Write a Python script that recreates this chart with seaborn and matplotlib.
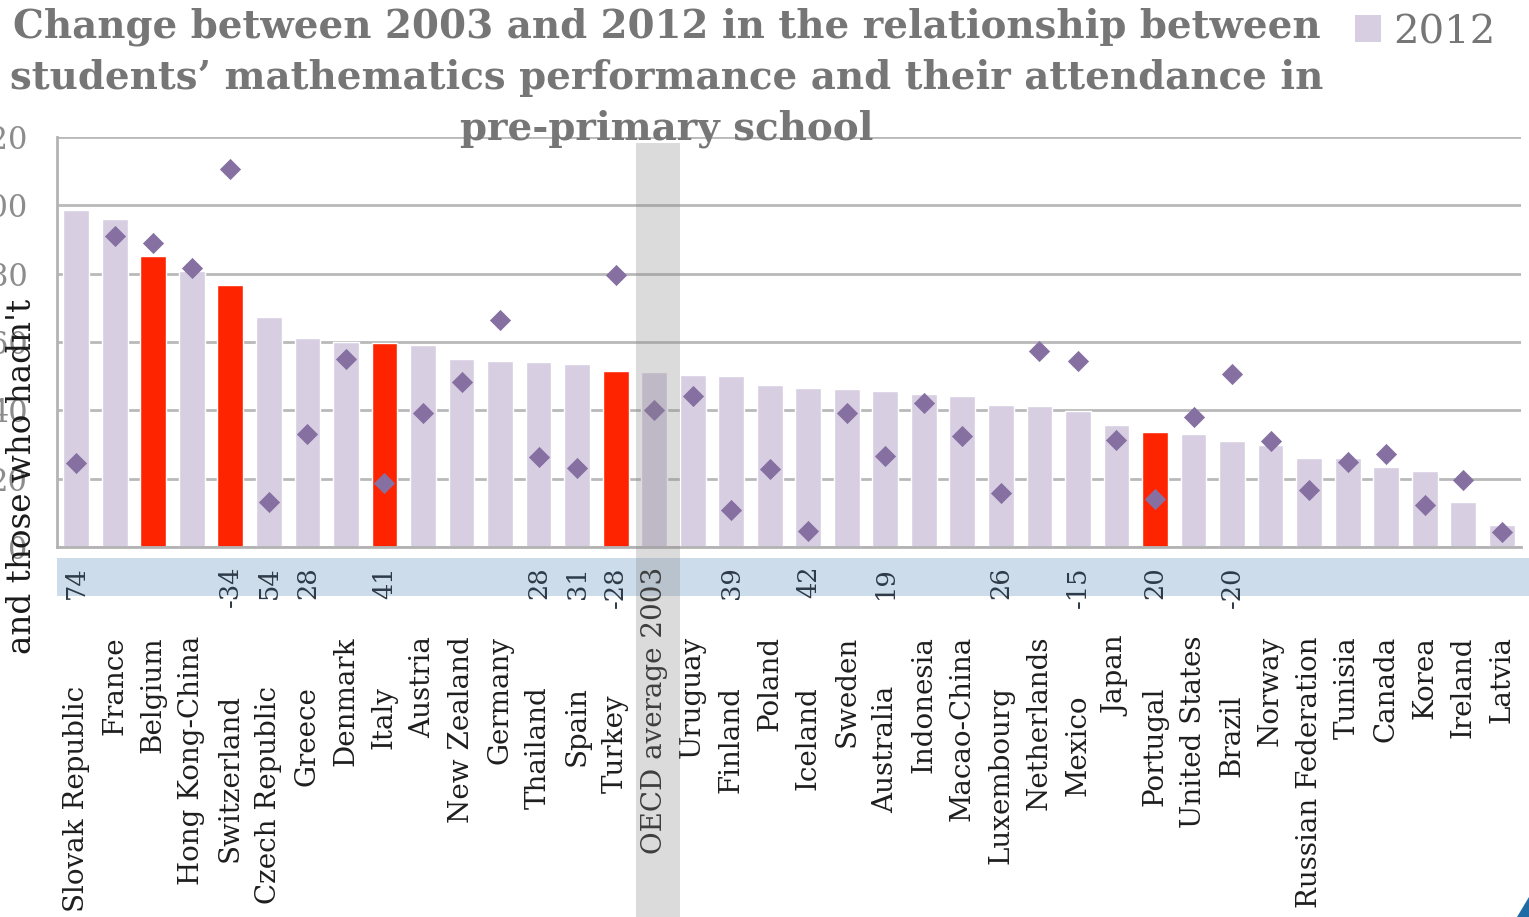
import matplotlib
matplotlib.use("Agg")
import matplotlib.pyplot as plt
from matplotlib.patches import Rectangle, Polygon, Patch
from matplotlib.transforms import blended_transform_factory
import seaborn as sns
import pandas as pd

# Score-point gap between students who attended pre-primary school and those who did not
countries = [
    "Slovak Republic", "France", "Belgium", "Hong Kong-China", "Switzerland",
    "Czech Republic", "Greece", "Denmark", "Italy", "Austria", "New Zealand",
    "Germany", "Thailand", "Spain", "Turkey", "OECD average 2003", "Uruguay",
    "Finland", "Poland", "Iceland", "Sweden", "Australia", "Indonesia",
    "Macao-China", "Luxembourg", "Netherlands", "Mexico", "Japan", "Portugal",
    "United States", "Brazil", "Norway", "Russian Federation", "Tunisia",
    "Canada", "Korea", "Ireland", "Latvia",
]
gap_2012 = [
    98.6, 95.9, 85.1, 80.7, 76.6, 67.2, 61.3, 60.1, 59.7, 59.2, 54.9, 54.4,
    54.1, 53.7, 51.4, 51.1, 50.3, 50.0, 47.5, 46.5, 46.2, 45.7, 44.7, 44.2,
    41.7, 41.4, 39.7, 35.7, 33.6, 33.0, 30.9, 29.9, 26.0, 26.0, 23.4, 22.2,
    13.1, 6.4,
]
gap_2003 = [
    24.5, 91.0, 88.9, 81.6, 110.6, 13.1, 33.0, 55.0, 18.7, 39.2, 48.3, 66.5,
    26.3, 23.0, 79.6, 40.0, 44.1, 10.8, 22.8, 4.6, 39.2, 26.6, 42.2, 32.6,
    15.7, 57.5, 54.5, 31.2, 14.0, 38.0, 50.6, 30.9, 16.6, 25.0, 27.1, 12.2,
    19.5, 4.3,
]
# Significant changes between 2003 and 2012 (blank where not significant)
change_labels = [
    "74", "", "", "", "-34", "54", "28", "", "41", "", "", "", "28", "31",
    "-28", "", "", "39", "", "42", "", "19", "", "", "26", "", "-15", "",
    "20", "", "-20", "", "", "", "", "", "", "",
]
highlighted = ["Belgium", "Switzerland", "Italy", "Turkey", "Portugal"]
average_label = "OECD average 2003"
y_ticks = [0, 20, 40, 60, 80, 100, 120]
title_lines = [
    "Change between 2003 and 2012 in the relationship between",
    "students\u2019 mathematics performance and their attendance in",
    "pre-primary school",
]
legend_label = "2012"
axis_text = "and those who hadn't"

LAVENDER = "#D7CEE2"
RED = "#FF2400"
DIAMOND = "#8670A1"
GRID = "#B9B9B9"
TITLE_GREY = "#767676"
BAND_BLUE = "#CCDCEB"

W, H, DPI = 1529, 917, 100
sns.set_theme(style="white")
plt.rcParams["font.family"] = ["DejaVu Serif"]

fig = plt.figure(figsize=(W / DPI, H / DPI), dpi=DPI)
ax = fig.add_axes([57 / W, 1 - 547 / H, 1464 / W, 410 / H])

df = pd.DataFrame({"country": countries, "gap_2012": gap_2012, "gap_2003": gap_2003})
palette = {c: (RED if c in highlighted else LAVENDER) for c in countries}

ax.set_axisbelow(True)
sns.barplot(data=df, x="country", y="gap_2012", hue="country", palette=palette,
            legend=False, width=0.67, saturation=1, ax=ax, zorder=2)
sns.stripplot(data=df, x="country", y="gap_2003", marker="D", jitter=False,
              color=DIAMOND, size=10.8, linewidth=0, ax=ax, zorder=3)

ax.set_ylim(0, 120)
ax.set_xlim(-0.5, len(countries) - 0.5)
ax.set_yticks(y_ticks)
ax.set_xticks([])
ax.set_xlabel("")
ax.set_ylabel("")
ax.grid(axis="y", color=GRID, linewidth=2)
ax.grid(axis="x", visible=False)
ax.tick_params(axis="y", length=0, pad=21, labelsize=22, labelcolor="#8C8C8C")
for side in ("top", "right"):
    ax.spines[side].set_visible(False)
for side in ("left", "bottom"):
    ax.spines[side].set_color("#B3B3B3")
    ax.spines[side].set_linewidth(2)

xfig = blended_transform_factory(ax.transData, fig.transFigure)

# Band carrying the change values
fig.add_artist(Rectangle((57 / W, 1 - 596 / H), 1 - 57 / W, 38 / H,
                         transform=fig.transFigure, facecolor=BAND_BLUE,
                         edgecolor="none", zorder=-1))

for i, (name, lab) in enumerate(zip(countries, change_labels)):
    if lab:
        ax.text(i, 1 - 566 / H, lab, rotation=90, ha="center", va="top",
                fontsize=18.5, color="#2E3A48", transform=xfig, clip_on=False)
    if name == average_label:
        top = 567
    elif lab:
        top = 694 if lab.startswith("-") else 686
    else:
        top = 636
    ax.text(i, 1 - top / H, name, rotation=90, ha="center", va="top",
            fontsize=20, color="#1E1E1E", transform=xfig, clip_on=False)

# Translucent column marking the OECD average
avg_idx = countries.index(average_label)
fig.add_artist(Rectangle((avg_idx - 0.48, 0), 1.14, 1 - 143 / H, transform=xfig,
                         facecolor="#8A8A8A", alpha=0.3, edgecolor="none", zorder=5))

# Title
for line, base in zip(title_lines, [38, 89, 139]):
    fig.text(667 / W, 1 - base / H, line, ha="center", va="baseline",
             fontsize=27.9, fontweight="bold", color=TITLE_GREY, zorder=6)

fig.text(22 / W, 1 - 476 / H, axis_text, rotation=90, ha="center", va="center",
         fontsize=23.5, color="#1A1A1A", zorder=6)

fig.legend(handles=[Patch(facecolor=LAVENDER, edgecolor="none")], labels=[legend_label],
           loc="upper left", bbox_to_anchor=(1343 / W, 1 - 2 / H), frameon=False,
           fontsize=29, handlelength=0.65, handleheight=0.65, handletextpad=0.3,
           labelcolor=TITLE_GREY, borderaxespad=0, borderpad=0.3)

fig.add_artist(Polygon([(1517 / W, 0), (1, 0), (1, 20 / H)], closed=True,
                       transform=fig.transFigure, facecolor="#1F6BA6",
                       edgecolor="none", zorder=6))

fig.savefig("out.png", dpi=DPI)
